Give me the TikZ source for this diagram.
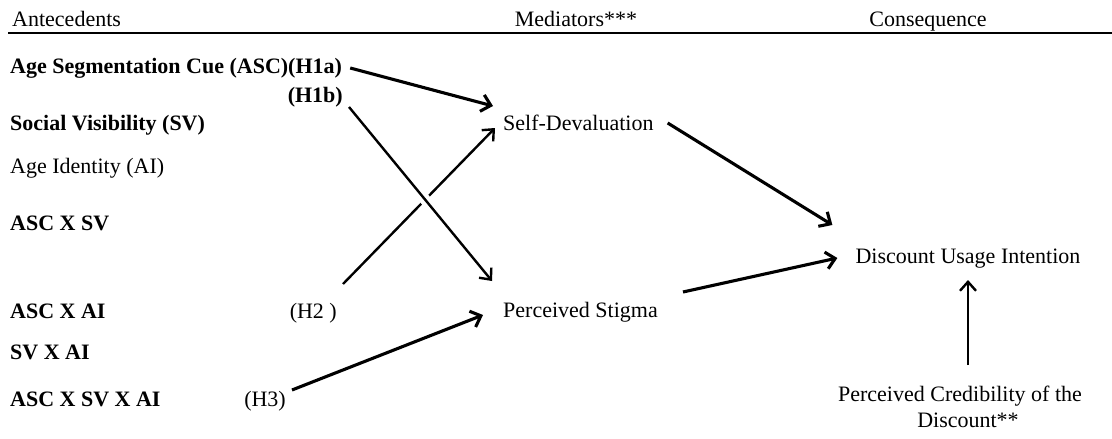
\documentclass[tikz,border=0pt]{standalone}
\usepackage{fontspec}
\setmainfont{Liberation Serif}
\usetikzlibrary{arrows.meta,calc}
\begin{document}
\begin{tikzpicture}[x=1pt,y=-1pt,
  txt/.style={inner sep=0pt, font=\fontsize{22}{26}\selectfont},
  bftxt/.style={inner sep=0pt, font=\fontsize{22}{26}\selectfont\bfseries},
  thk/.style={line width=3.1pt, -{Straight Barb[length=9pt,width=17pt]}},
  thn/.style={line width=2.4pt, -{Straight Barb[length=9pt,width=16pt]}},
  bridge/.style={preaction={draw=white, line width=11pt, -, shorten <=40pt, shorten >=40pt}}]
\useasboundingbox (0,0) rectangle (1112,439);
% headers
\node[txt, anchor=base west] (ante) at (12,27) {Antecedents};
\node[txt, anchor=base] (medi) at (576,27) {Mediators***};
\node[txt, anchor=base] (cons) at (928,27) {Consequence};
\draw[line width=2.5pt] (8,33) -- (1112,33);
% antecedents
\node[bftxt, anchor=base west] (asc) at (10,73) {Age Segmentation Cue (ASC)(H1a)};
\node[bftxt, anchor=base east] (h1b) at (343,102) {(H1b)};
\node[bftxt, anchor=base west] (sv) at (10,130) {Social Visibility (SV)};
\node[txt, anchor=base west] (ai) at (10,173) {Age Identity (AI)};
\node[bftxt, anchor=base west] (ascsv) at (10,230) {ASC X SV};
\node[bftxt, anchor=base west] (ascai) at (10,318) {ASC X AI};
\node[txt, anchor=base east] (h2) at (337,318) {(H2 )};
\node[bftxt, anchor=base west] (svai) at (10,359) {SV X AI};
\node[bftxt, anchor=base west] (ascsvai) at (10,406) {ASC X SV X AI};
\node[txt, anchor=base east] (h3) at (286,406) {(H3)};
% mediators
\node[txt, anchor=base west] (sd) at (503,130) {Self-Devaluation};
\node[txt, anchor=base west] (ps) at (503,317) {Perceived Stigma};
% consequence
\node[txt, anchor=base] (dui) at (968,263) {Discount Usage Intention};
\node[txt, anchor=north, align=center] (pc) at (960,386) {Perceived Credibility of the\\\hspace*{16pt}Discount**};
% connectors
\draw[thk] ($(asc.base east)+(8,-5)$) -- ($(sd.base west)+(-10,-24)$);
\draw[thn] ($(h2.base east)+(6,-34)$) -- ($(sd.base west)+(-8,-2)$);
\draw[thn, bridge] ($(h1b.base east)+(6,5)$) -- ($(ps.base west)+(-11,-36)$);
\draw[thk] ($(h3.base east)+(6,-16)$) -- ($(ps.base west)+(-20,-2)$);
\draw[thk] ($(sd.base east)+(14,-7)$) -- ($(dui.base west)+(-23,-38)$);
\draw[thk] ($(ps.base east)+(25,-25)$) -- ($(dui.base west)+(-18,-5)$);
\coordinate (pctop) at ($(pc.north -| dui.base)+(0,-21)$);
\draw[thn] (pctop) -- ($(dui.base)+(0,17)$);
\end{tikzpicture}
\end{document}
